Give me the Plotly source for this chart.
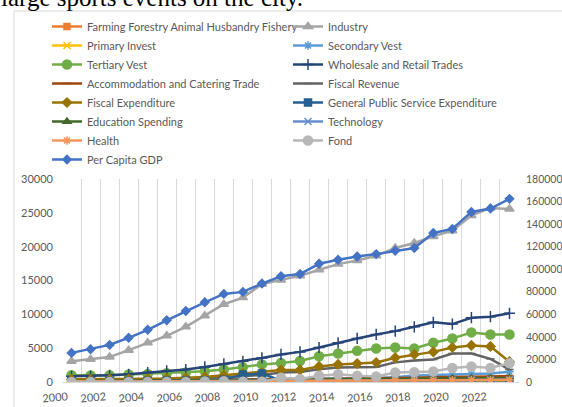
import plotly.graph_objects as go

# ---------------- data ----------------
years = list(range(2001, 2025))
label_years = list(range(2000, 2024, 2))

farming = [200, 205, 210, 215, 220, 225, 230, 235, 240, 245, 250, 255, 260, 265, 270, 275, 280, 285, 290, 295, 300, 305, 310, 315]
industry = [3070, 3370, 3710, 4700, 5790, 6830, 8160, 9790, 11490, 12470, 14450, 15090, 15690, 16580, 17420, 17960, 18650, 19800, 20540, 21520, 22360, 24590, 25730, 25580]
primary_invest = [40, 42, 44, 46, 48, 50, 52, 54, 56, 58, 60, 62, 64, 66, 68, 70, 72, 74, 76, 78, 80, 82, 84, 86]
secondary_vest = [150, 170, 190, 210, 240, 270, 300, 330, 360, 400, 430, 460, 480, 500, 530, 560, 600, 700, 950, 1050, 1100, 1150, 1250, 1500]
tertiary_vest = [990, 950, 990, 1100, 1200, 1300, 1400, 1600, 1850, 2200, 2600, 2820, 3100, 3810, 4220, 4600, 4960, 5100, 4960, 5790, 6440, 7330, 7030, 7030]
wholesale_retail = [850, 890, 990, 1140, 1400, 1630, 1840, 2230, 2670, 3070, 3560, 4070, 4450, 5100, 5790, 6440, 7030, 7520, 8160, 8820, 8560, 9500, 9650, 10150]
accommodation = [150, 160, 170, 180, 200, 220, 240, 270, 300, 330, 360, 380, 400, 420, 450, 480, 520, 580, 620, 700, 720, 780, 830, 900]
fiscal_revenue = [150, 180, 210, 260, 320, 390, 470, 580, 700, 850, 1050, 1400, 1480, 1885, 2140, 2230, 2230, 2900, 3170, 3320, 4215, 4215, 3420, 1840]
fiscal_expenditure = [400, 400, 420, 440, 480, 520, 600, 750, 990, 1240, 1400, 1760, 1790, 2300, 2600, 2730, 2880, 3590, 4070, 4450, 5100, 5400, 5250, 3000]
gps_expenditure = [120, 130, 140, 150, 160, 170, 180, 220, 350, 1090, 1240, 200, 190, 190, 200, 200, 210, 210, 220, 220, 230, 230, 240, 250]
education = [100, 110, 120, 130, 140, 160, 180, 200, 230, 260, 290, 320, 340, 360, 380, 400, 420, 450, 480, 500, 520, 540, 560, 580]
technology = [30, 35, 40, 45, 50, 60, 70, 80, 90, 100, 110, 120, 130, 140, 150, 170, 190, 210, 230, 250, 270, 290, 310, 330]
health = [60, 65, 70, 80, 90, 100, 110, 120, 130, 140, 150, 160, 170, 180, 190, 200, 210, 220, 230, 250, 270, 290, 300, 320]
fond = [0, 0, 0, 0, 0, 0, 0, 80, 100, 50, 50, 620, 430, 920, 1140, 940, 820, 1400, 1440, 1560, 2060, 2280, 2060, 2780]
per_capita_gdp = [25800, 29100, 32900, 39200, 46300, 54700, 63000, 70700, 78100, 79900, 87300, 93800, 95700, 104800, 108400, 111300, 113400, 116400, 118800, 132100, 135700, 150800, 153800, 162400]

# ---------------- styles ----------------
# (name, values, colour, marker symbol, marker size, legend column)
series = [
    ("Farming Forestry Animal Husbandry Fishery", farming, "#ED7D31", "square", 6, "legend"),
    ("Industry", industry, "#A5A5A5", "triangle-up", 8, "legend2"),
    ("Primary Invest", primary_invest, "#FFC000", "x-thin-open", 7, "legend"),
    ("Secondary Vest", secondary_vest, "#5B9BD5", "asterisk-open", 7, "legend2"),
    ("Tertiary Vest", tertiary_vest, "#70AD47", "circle", 9, "legend"),
    ("Wholesale and Retail Trades", wholesale_retail, "#264478", "cross-thin-open", 8, "legend2"),
    ("Accommodation and Catering Trade", accommodation, "#9E480E", "line-ew-open", 6, "legend"),
    ("Fiscal Revenue", fiscal_revenue, "#636363", "line-ew-open", 6, "legend2"),
    ("Fiscal Expenditure", fiscal_expenditure, "#997300", "diamond", 7, "legend"),
    ("General Public Service Expenditure", gps_expenditure, "#255E91", "square", 7, "legend2"),
    ("Education Spending", education, "#43682B", "triangle-up", 7, "legend"),
    ("Technology", technology, "#698ED0", "x-thin-open", 7, "legend2"),
    ("Health", health, "#F1975A", "asterisk-open", 7, "legend"),
    ("Fond", fond, "#B7B7B7", "circle", 9, "legend2"),
]

W, H = 562, 407
ML, MR, MT, MB = 62, 43, 179, 25
PW, PH = W - ML - MR, H - MT - MB
TXT = "#595959"
FONT = "Lato"

fig = go.Figure()
for name, vals, color, sym, size, leg in series:
    fig.add_trace(go.Scatter(
        x=years, y=vals, name=name, mode="lines+markers", legend=leg,
        line=dict(color=color, width=2.5),
        marker=dict(symbol=sym, size=size, color=color,
                    line=dict(color=color, width=1.5)),
    ))
fig.add_trace(go.Scatter(
    x=years, y=per_capita_gdp, name="Per Capita GDP", mode="lines+markers",
    yaxis="y2", legend="legend", line=dict(color="#4472C4", width=2.5),
    marker=dict(symbol="diamond", size=8, color="#4472C4"),
))

def px2paper_x(p):
    return (p - ML) / PW

def px2paper_y(p):
    return (H - MB - p) / PH

leg_common = dict(
    orientation="v", xref="container", yref="container",
    xanchor="left", yanchor="top",
    font=dict(family=FONT, size=11, color=TXT),
    bgcolor="rgba(0,0,0,0)", borderwidth=0, traceorder="normal",
    tracegroupgap=0,
)

label_shift = 0.8
fig.update_layout(
    width=W, height=H,
    margin=dict(l=ML, r=MR, t=MT, b=MB, pad=0, autoexpand=False),
    paper_bgcolor="white", plot_bgcolor="white",
    font=dict(family=FONT, size=11, color=TXT),
    showlegend=True,
    legend=dict(x=47 / W, y=1 - 12 / H, **leg_common),
    legend2=dict(x=288 / W, y=1 - 12 / H, **leg_common),
    xaxis=dict(
        range=[years[0] - 0.5, years[-1] + 0.5],
        tickmode="array",
        tickvals=[y + label_shift for y in label_years],
        ticktext=[str(y) for y in label_years],
        tickangle=-5, ticks="", showgrid=False, zeroline=False,
        showline=True, linecolor="#D9D9D9", linewidth=1,
        tickfont=dict(family=FONT, size=11, color=TXT),
        ticklabelstandoff=4,
        minor=dict(tickmode="array", tickvals=[y - 0.5 for y in years],
                   showgrid=True, gridcolor="#D9D9D9", gridwidth=1, ticks=""),
    ),
    yaxis=dict(
        range=[0, 30000], dtick=5000, tick0=0, showgrid=False, zeroline=False,
        showline=False, ticks="", tickformat="d",
        tickfont=dict(family=FONT, size=11, color=TXT),
        ticklabelstandoff=8,
    ),
    yaxis2=dict(
        range=[0, 180000], dtick=20000, tick0=0, overlaying="y", side="right",
        showgrid=False, zeroline=False, showline=False, ticks="", tickformat="d",
        tickfont=dict(family=FONT, size=10.5, color=TXT), ticklabelstandoff=6,
    ),
    shapes=[dict(
        type="rect", xref="paper", yref="paper", layer="below",
        x0=px2paper_x(14), x1=px2paper_x(W + 10),
        y0=px2paper_y(H + 10), y1=px2paper_y(11),
        line=dict(color="#D9D9D9", width=1), fillcolor="rgba(0,0,0,0)",
    )],
    annotations=[dict(
        text="large sports events on the city.", showarrow=False,
        xref="paper", yref="paper", x=px2paper_x(-1), y=px2paper_y(6),
        xanchor="left", yanchor="bottom", yshift=-7,
        font=dict(family="Liberation Serif", size=25, color="black"),
    )],
)

fig.write_html("out.html")
